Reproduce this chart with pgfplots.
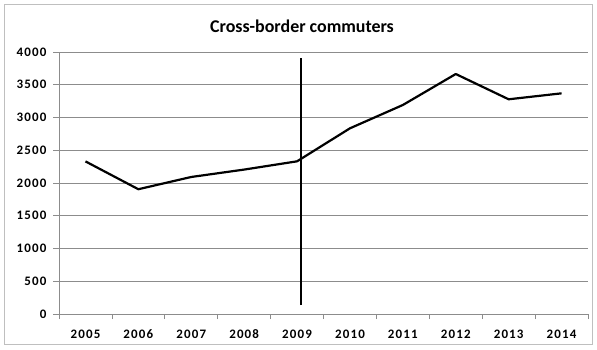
\documentclass[border=0pt]{standalone}
\usepackage{fontspec}
\setmainfont{Carlito}
\usepackage{pgfplots}
\pgfplotsset{compat=1.18}
\definecolor{gridc}{HTML}{8C8C8C}
\definecolor{borderc}{HTML}{BFBFBF}
\begin{document}
\begin{tikzpicture}[x=1bp,y=1bp]
\useasboundingbox (0,0) rectangle (597,349);
\draw[borderc, line width=0.8bp] (4.5,4.5) rectangle (592.5,344.5);
\node[font=\fontsize{18}{21}\selectfont\bfseries] at (302,323) {Cross-border commuters};
\begin{axis}[at={(59bp,35bp)}, anchor=south west, scale only axis,
  width=529bp, height=262bp,
  xmin=-0.5, xmax=9.5, ymin=0, ymax=4000,
  axis x line=bottom, axis y line=left,
  axis line style={gridc, line width=0.8bp, -},
  xtick={0,...,9},
  xticklabels={2005,2006,2007,2008,2009,2010,2011,2012,2013,2014},
  major x tick style={draw=none},
  minor xtick={-0.5,0.5,...,9.5},
  minor x tick style={gridc, line width=0.8bp},
  tick align=outside, minor tick length=5bp, major tick length=6bp,
  ytick={0,500,...,4000},
  ymajorgrids, major grid style={gridc, line width=0.8bp},
  major y tick style={gridc, line width=0.8bp},
  tick label style={font=\fontsize{13}{15}\selectfont\bfseries\addfontfeature{LetterSpace=9}},
  xticklabel style={yshift=-6bp},
  yticklabel style={xshift=-3bp},
  /pgf/number format/assume math mode=true,
  /pgf/number format/1000 sep={},
  clip=false]
\addplot[black, line width=2.2bp, line join=round] coordinates {
 (0,2330) (1,1905) (2,2092) (3,2205) (4,2331) (5,2835) (6,3191) (7,3664) (8,3278) (9,3369)};
\addplot[black, line width=1.6bp] coordinates {(4.08,137) (4.08,3908)};
\end{axis}
\end{tikzpicture}
\end{document}
